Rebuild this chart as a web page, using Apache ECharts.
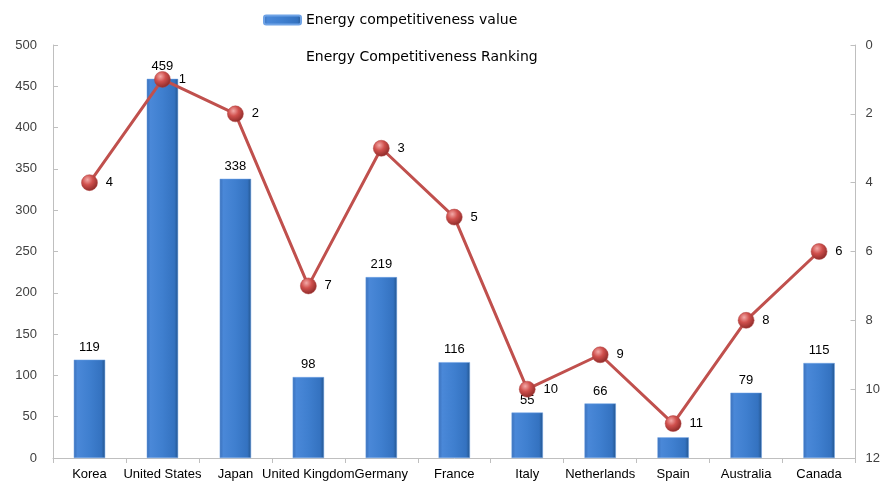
<!DOCTYPE html>
<html><head><meta charset="utf-8">
<script src="https://cdn.jsdelivr.net/npm/echarts@6/dist/echarts.min.js"></script>
<style>html,body{margin:0;padding:0;background:#fff}#c{width:883px;height:485px}</style>
</head><body><div id="c"></div>
<script>
const categories = ['Korea','United States','Japan','United Kingdom','Germany','France','Italy','Netherlands','Spain','Australia','Canada'];
const values = [119,459,338,98,219,116,55,66,25,79,115];
const ranks = [4,1,2,7,3,5,10,9,11,8,6];
const leftTicks = {min:0,max:500,interval:50};
const rightTicks = {min:0,max:12,interval:2};

const chart = echarts.init(document.getElementById('c'));
const font = 'Liberation Sans, Arial, sans-serif';
const wideFont = 'DejaVu Sans, sans-serif';
const axisLine = {show:true,lineStyle:{color:'#bfbfbf'}};
chart.setOption({
  animation:false,
  textStyle:{fontFamily:font},
  title:{text:'Energy Competitiveness Ranking',left:301,top:45,
    textStyle:{fontSize:14,fontWeight:'normal',color:'#000',fontFamily:wideFont}},
  legend:{data:['Energy competitiveness value'],left:258,top:8,itemWidth:37,itemHeight:9,itemGap:7,
    textStyle:{fontSize:14,color:'#000',fontFamily:wideFont}},
  grid:{left:53,right:26,top:45,bottom:27},
  xAxis:{type:'category',data:categories,axisLine:axisLine,
    axisTick:{show:true,length:5,lineStyle:{color:'#bfbfbf'}},
    axisLabel:{color:'#000',fontSize:13,interval:0,margin:10,fontFamily:font}},
  yAxis:[
    {type:'value',min:leftTicks.min,max:leftTicks.max,interval:leftTicks.interval,
      axisLine:axisLine,axisTick:{show:true,inside:true,length:5,lineStyle:{color:'#bfbfbf'}},
      splitLine:{show:false},axisLabel:{color:'#404040',fontSize:13,margin:16}},
    {type:'value',min:rightTicks.min,max:rightTicks.max,interval:rightTicks.interval,inverse:true,
      axisLine:axisLine,axisTick:{show:true,inside:true,length:5,lineStyle:{color:'#bfbfbf'}},
      splitLine:{show:false},axisLabel:{color:'#404040',fontSize:13,margin:10}}
  ],
  series:[
    {name:'Energy competitiveness value',type:'bar',data:values,barWidth:'43%',
      itemStyle:{color:new echarts.graphic.LinearGradient(0,0,1,0,[
        {offset:0,color:'#3a70ba'},{offset:0.12,color:'#4a88d8'},{offset:0.5,color:'#3f7fcf'},
        {offset:0.88,color:'#3472c0'},{offset:1,color:'#24568f'}]),
        borderColor:'#6fa3e6',borderWidth:0.5},
      label:{show:true,position:'top',color:'#000',fontSize:13,distance:6,fontFamily:font}},
    {name:'Energy Competitiveness Ranking',type:'line',yAxisIndex:1,data:ranks,
      symbol:'circle',symbolSize:16,z:5,
      lineStyle:{color:'#c0504d',width:3},
      itemStyle:{color:new echarts.graphic.RadialGradient(0.38,0.32,0.7,[
        {offset:0,color:'#f3aaa8'},{offset:0.45,color:'#d0504d'},{offset:1,color:'#8c2a28'}]),
        borderColor:'#b04542',borderWidth:0.5},
      label:{show:true,position:'right',distance:8,color:'#000',fontSize:13,fontFamily:font}}
  ]
});
</script></body></html>
